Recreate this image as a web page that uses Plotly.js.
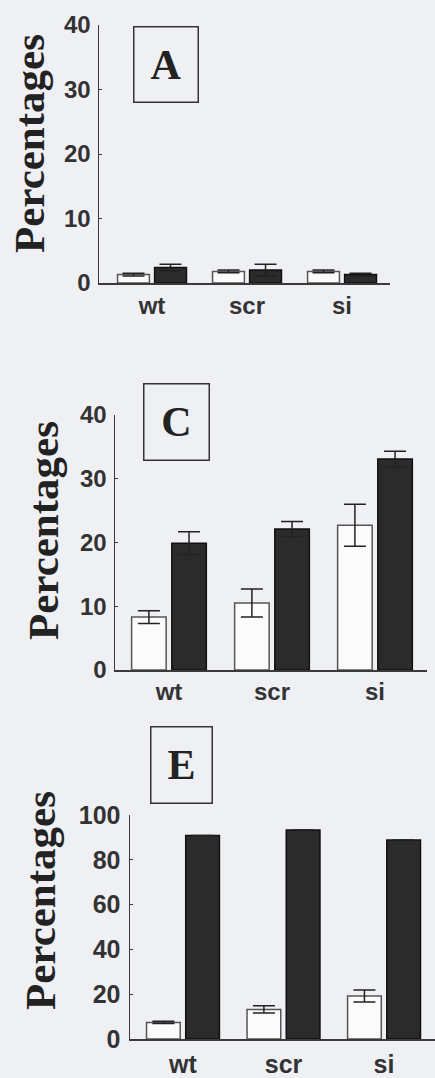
<!DOCTYPE html>
<html><head><meta charset="utf-8">
<script src="https://cdn.plot.ly/plotly-3.0.1.min.js"></script>
<style>html,body{margin:0;padding:0;background:#eff0f3;} #chart{width:435px;height:1078px;}</style>
</head><body><div id="chart"></div>
<script>
// ---- data ----
const categories = ['wt', 'scr', 'si'];
// Panel A
const aOpen = [1.3, 1.8, 1.8];
const aOpenErr = [0.2, 0.2, 0.2];
const aFilled = [2.4, 2.0, 1.3];
const aFilledErr = [0.5, 0.9, 0.2];
// Panel C
const cOpen = [8.3, 10.5, 22.7];
const cOpenErr = [1.0, 2.2, 3.3];
const cFilled = [19.9, 22.1, 33.1];
const cFilledErr = [1.8, 1.2, 1.2];
// Panel E
const eOpen = [7.4, 13.2, 19.2];
const eOpenErr = [0.5, 1.6, 2.7];
const eFilled = [90.8, 93.3, 88.8];
const eFilledErr = [0, 0, 0];
// ticks / labels
const ticksAC = [0, 10, 20, 30, 40];
const ticksE = [0, 20, 40, 60, 80, 100];
const panelLetters = ['A', 'C', 'E'];
const yTitle = 'Percentages';

// ---- styles ----
const W = 435, H = 1078;
const px = v => v / W;
const py = v => 1 - v / H;
const axisCol = '#3a3a3a';
const openFill = '#fbfbfb', openLine = '#555555';
const darkFill = '#2b2b2b', darkLine = '#111111';

function bars(y, err, xa, ya, open) {
  return {
    type: 'bar', x: categories, y: y, xaxis: xa, yaxis: ya,
    marker: {color: open ? openFill : darkFill, line: {color: open ? openLine : darkLine, width: 1.5}},
    error_y: {type: 'data', array: err, visible: true, color: '#222', thickness: 1.5, width: 11},
    hoverinfo: 'skip', showlegend: false
  };
}

const data = [
  bars(aOpen, aOpenErr, 'x', 'y', true),
  bars(aFilled, aFilledErr, 'x', 'y', false),
  bars(cOpen, cOpenErr, 'x2', 'y2', true),
  bars(cFilled, cFilledErr, 'x2', 'y2', false),
  bars(eOpen, eOpenErr, 'x3', 'y3', true),
  bars(eFilled, eFilledErr, 'x3', 'y3', false)
];

const narrow = {family: '"Liberation Sans Narrow", "Arial Narrow", "Liberation Sans", Arial, sans-serif', size: 24, color: '#333', weight: 'bold'};
const wide = {family: '"Liberation Sans", Arial, sans-serif', size: 25, color: '#333', weight: 'bold'};

function xax(domain, range, font, standoff, anchor) {
  return {domain: domain, range: range, anchor: anchor, type: 'category', showgrid: false, zeroline: false,
    showline: true, linecolor: axisCol, linewidth: 1.5, ticks: '', tickfont: font, ticklabelstandoff: standoff, fixedrange: true};
}
function yax(domain, range, tickvals, font, anchor, standoff) {
  return {domain: domain, range: range, anchor: anchor, tickvals: tickvals, ticktext: tickvals.map(String),
    showgrid: false, zeroline: false, showline: true, linecolor: axisCol, linewidth: 1.5,
    ticks: 'inside', ticklen: 3, tickcolor: axisCol, tickfont: font, ticklabelstandoff: standoff, fixedrange: true};
}

const serifBold = {family: '"Liberation Serif", "Times New Roman", serif', color: '#222', weight: 'bold'};

function letterBox(letter, cx, cy, w, h) {
  return {xref: 'paper', yref: 'paper', x: px(cx), y: py(cy), xanchor: 'center', yanchor: 'middle',
    text: letter, showarrow: false, width: w, height: h, bordercolor: '#333', borderwidth: 1.5, borderpad: 0,
    font: Object.assign({size: 42}, serifBold), valign: 'middle', align: 'center'};
}
function yTitleAnn(cx, cy) {
  return {xref: 'paper', yref: 'paper', x: px(cx), y: py(cy), xanchor: 'center', yanchor: 'middle',
    text: yTitle, showarrow: false, textangle: -90, font: Object.assign({size: 43}, serifBold)};
}

const layout = {
  width: W, height: H, margin: {l: 0, r: 0, t: 0, b: 0},
  paper_bgcolor: '#eff0f3', plot_bgcolor: '#eff0f3',
  barmode: 'group', bargap: 0.22, bargroupgap: 0.14,
  xaxis: xax([px(99), px(390)], [-0.558, 2.505], narrow, 1, 'y'),
  yaxis: yax([py(283), py(25)], [0, 40], ticksAC, narrow, 'x', 2),
  xaxis2: xax([px(115), px(427)], [-0.524, 2.505], narrow, 0, 'y2'),
  yaxis2: yax([py(670), py(415)], [0, 40], ticksAC, narrow, 'x2', 2),
  xaxis3: xax([px(130), px(435)], [-0.527, 2.507], wide, 2, 'y3'),
  yaxis3: yax([py(1039), py(815)], [0, 100], ticksE, wide, 'x3', 3),
  annotations: [
    letterBox(panelLetters[0], 166, 64.5, 63, 74),
    letterBox(panelLetters[1], 176.5, 422, 64, 75),
    letterBox(panelLetters[2], 181.5, 765, 60, 75),
    yTitleAnn(29, 144),
    yTitleAnn(43, 531),
    yTitleAnn(40, 901)
  ]
};

Plotly.newPlot('chart', data, layout, {staticPlot: true, displayModeBar: false});
</script>
</body></html>
